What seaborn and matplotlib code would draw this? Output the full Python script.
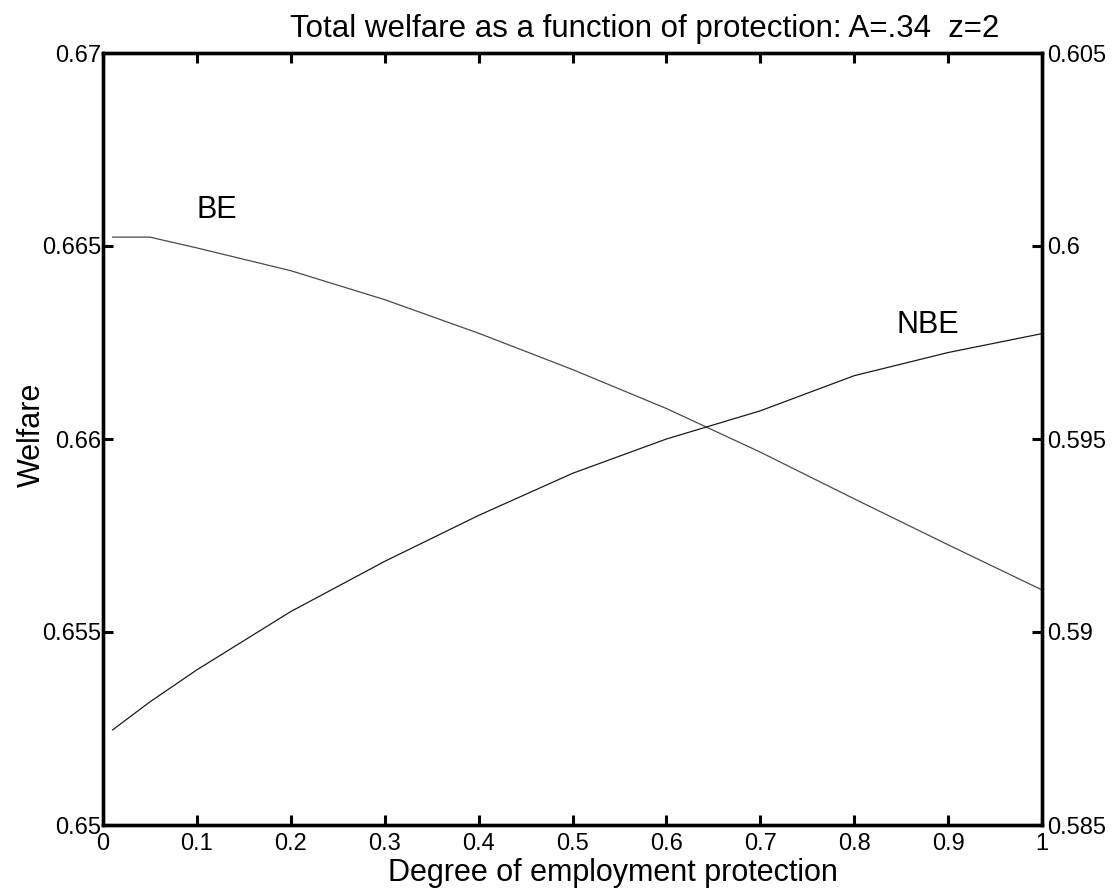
import numpy as np
import pandas as pd
import matplotlib
matplotlib.use("Agg")
import matplotlib.pyplot as plt
import seaborn as sns

# Degree of employment protection
protection_be = [0.01, 0.05, 0.10, 0.20, 0.30, 0.40, 0.50, 0.60, 0.70, 0.80, 0.90, 1.00]
welfare_be = [0.66523, 0.66523, 0.66495, 0.66436, 0.66361, 0.66274, 0.66180, 0.66079,
              0.65966, 0.65845, 0.65726, 0.65609]

protection_nbe = [0.01, 0.05, 0.10, 0.20, 0.30, 0.40, 0.50, 0.60, 0.70, 0.80, 0.90, 1.00]
# NBE welfare is read on the right-hand scale
welfare_nbe = [0.58746, 0.58819, 0.58902, 0.59053, 0.59183, 0.59302, 0.59411, 0.59500,
               0.59573, 0.59664, 0.59724, 0.59773]

x_ticks = [0, 0.1, 0.2, 0.3, 0.4, 0.5, 0.6, 0.7, 0.8, 0.9, 1]
x_tick_labels = ["0", "0.1", "0.2", "0.3", "0.4", "0.5", "0.6", "0.7", "0.8", "0.9", "1"]
left_ticks = [0.65, 0.655, 0.66, 0.665, 0.67]
left_tick_labels = ["0.65", "0.655", "0.66", "0.665", "0.67"]
right_ticks = [0.585, 0.59, 0.595, 0.6, 0.605]
right_tick_labels = ["0.585", "0.59", "0.595", "0.6", "0.605"]

sns.set_style("white")
plt.rcParams["font.family"] = ["Liberation Sans", "DejaVu Sans"]
plt.rcParams["text.color"] = "black"
plt.rcParams["xtick.color"] = "black"
plt.rcParams["ytick.color"] = "black"
plt.rcParams["axes.labelcolor"] = "black"

fig = plt.figure(figsize=(11.2, 8.94), dpi=100)
ax = fig.add_axes([103 / 1120, 1 - 825 / 894, 939 / 1120, 772 / 894])
ax2 = ax.twinx()

be = pd.DataFrame({"protection": protection_be, "welfare": welfare_be})
nbe = pd.DataFrame({"protection": protection_nbe, "welfare": welfare_nbe})

sns.lineplot(data=be, x="protection", y="welfare", ax=ax, color="#4a4a4a", linewidth=0.9)
sns.lineplot(data=nbe, x="protection", y="welfare", ax=ax2, color="#1a1a1a", linewidth=0.9)

ax.set_xlim(0, 1)
ax.set_ylim(0.65, 0.67)
ax2.set_ylim(0.585, 0.605)

fs = 17
lfs = 22
ax.set_xticks(x_ticks)
ax.set_xticklabels(x_tick_labels, fontsize=fs)
ax.set_yticks(left_ticks)
ax.set_yticklabels(left_tick_labels, fontsize=fs)
ax2.set_yticks(right_ticks)
ax2.set_yticklabels(right_tick_labels, fontsize=fs)

ax.tick_params(axis="x", direction="in", length=7, width=2.2, pad=6, top=True, bottom=True)
ax.tick_params(axis="y", direction="in", length=7, width=2.2, pad=1, left=True, right=False)
ax2.tick_params(axis="y", direction="in", length=7, width=2.2, pad=4, right=True, left=False)

for a in (ax, ax2):
    for sp in a.spines.values():
        sp.set_linewidth(2.4)
        sp.set_color("black")
        sp.set_visible(True)

ax.set_xlabel("")
ax.set_ylabel("")
ax2.set_ylabel("")
ax.text(0.543, -0.062, "Degree of employment protection", transform=ax.transAxes,
        ha="center", va="center", fontsize=lfs)
ax.text(-0.076, 0.505, "Welfare", transform=ax.transAxes, rotation=90,
        ha="center", va="center", fontsize=lfs)
ax.text(0.577, 1.021, "Total welfare as a function of protection: A=.34  z=2",
        transform=ax.transAxes, ha="center", va="baseline", fontsize=22.5)

ax.text(0.10, 0.66573, "BE", ha="left", va="baseline", fontsize=lfs)
ax.text(0.845, 0.66275, "NBE", ha="left", va="baseline", fontsize=lfs)

fig.savefig("out.png", dpi=100, facecolor="white")
